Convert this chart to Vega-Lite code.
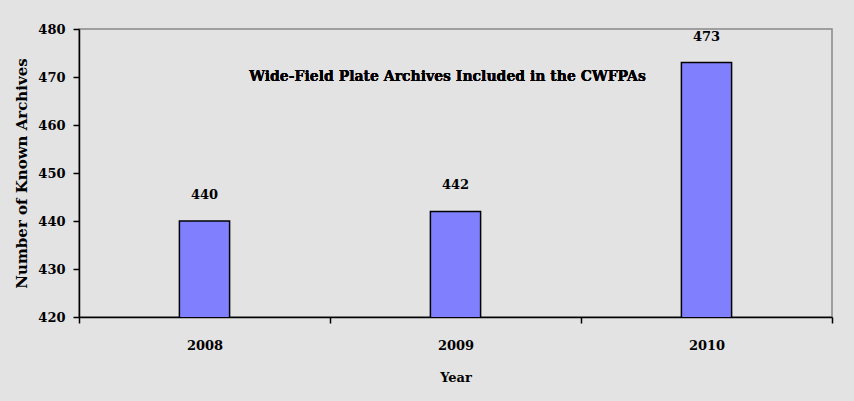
{
  "$schema": "https://vega.github.io/schema/vega-lite/v6.json",
  "width": 753,
  "height": 288,
  "autosize": {"type": "none"},
  "padding": {"left": 79, "top": 29, "right": 22, "bottom": 84},
  "background": "#e3e3e3",
  "config": {
    "view": {"stroke": "#888888", "strokeWidth": 1.5, "fill": "#e3e3e3"},
    "font": "DejaVu Serif",
    "axis": {"labelFont": "DejaVu Serif", "titleFont": "DejaVu Serif", "labelFontWeight": "bold", "titleFontWeight": "bold", "labelColor": "#000", "titleColor": "#000", "domainColor": "#000", "tickColor": "#000", "domainWidth": 1.5, "tickWidth": 1.5, "grid": false, "zindex": 1}
  },
  "data": {"values": [
    {"year": "2008", "archives": 440},
    {"year": "2009", "archives": 442},
    {"year": "2010", "archives": 473}
  ]},
  "layer": [
    {
      "mark": {"type": "bar", "fill": "#8080ff", "stroke": "#000", "strokeWidth": 1.5, "clip": true, "width": {"band": 0.2}},
      "encoding": {
        "x": {"field": "year", "type": "nominal", "scale": {"paddingInner": 0, "paddingOuter": 0},
              "axis": {"title": "Year", "labelAngle": 0, "labelFontSize": 13, "titleFontSize": 13, "tickBand": "extent", "tickSize": 6, "labelPadding": 16, "titlePadding": 19}},
        "y": {"field": "archives", "type": "quantitative", "scale": {"domain": [420, 480], "nice": false, "zero": false},
              "axis": {"title": "Number of Known Archives", "values": [420, 430, 440, 450, 460, 470, 480], "labelFontSize": 13, "titleFontSize": 15, "tickSize": 6, "labelPadding": 8, "titlePadding": 8}}
      }
    },
    {
      "mark": {"type": "text", "dy": -26, "fontWeight": "bold", "fontSize": 13, "font": "DejaVu Serif", "color": "#000"},
      "encoding": {
        "x": {"field": "year", "type": "nominal"},
        "y": {"field": "archives", "type": "quantitative"},
        "text": {"field": "archives", "type": "quantitative"}
      }
    },
    {
      "mark": {"type": "text", "fontWeight": "bold", "fontSize": 14, "font": "DejaVu Serif", "color": "#000", "dx": -8},
      "encoding": {
        "y": {"datum": 470},
        "text": {"value": "Wide-Field Plate Archives Included in the CWFPAs"}
      }
    }
  ]
}
